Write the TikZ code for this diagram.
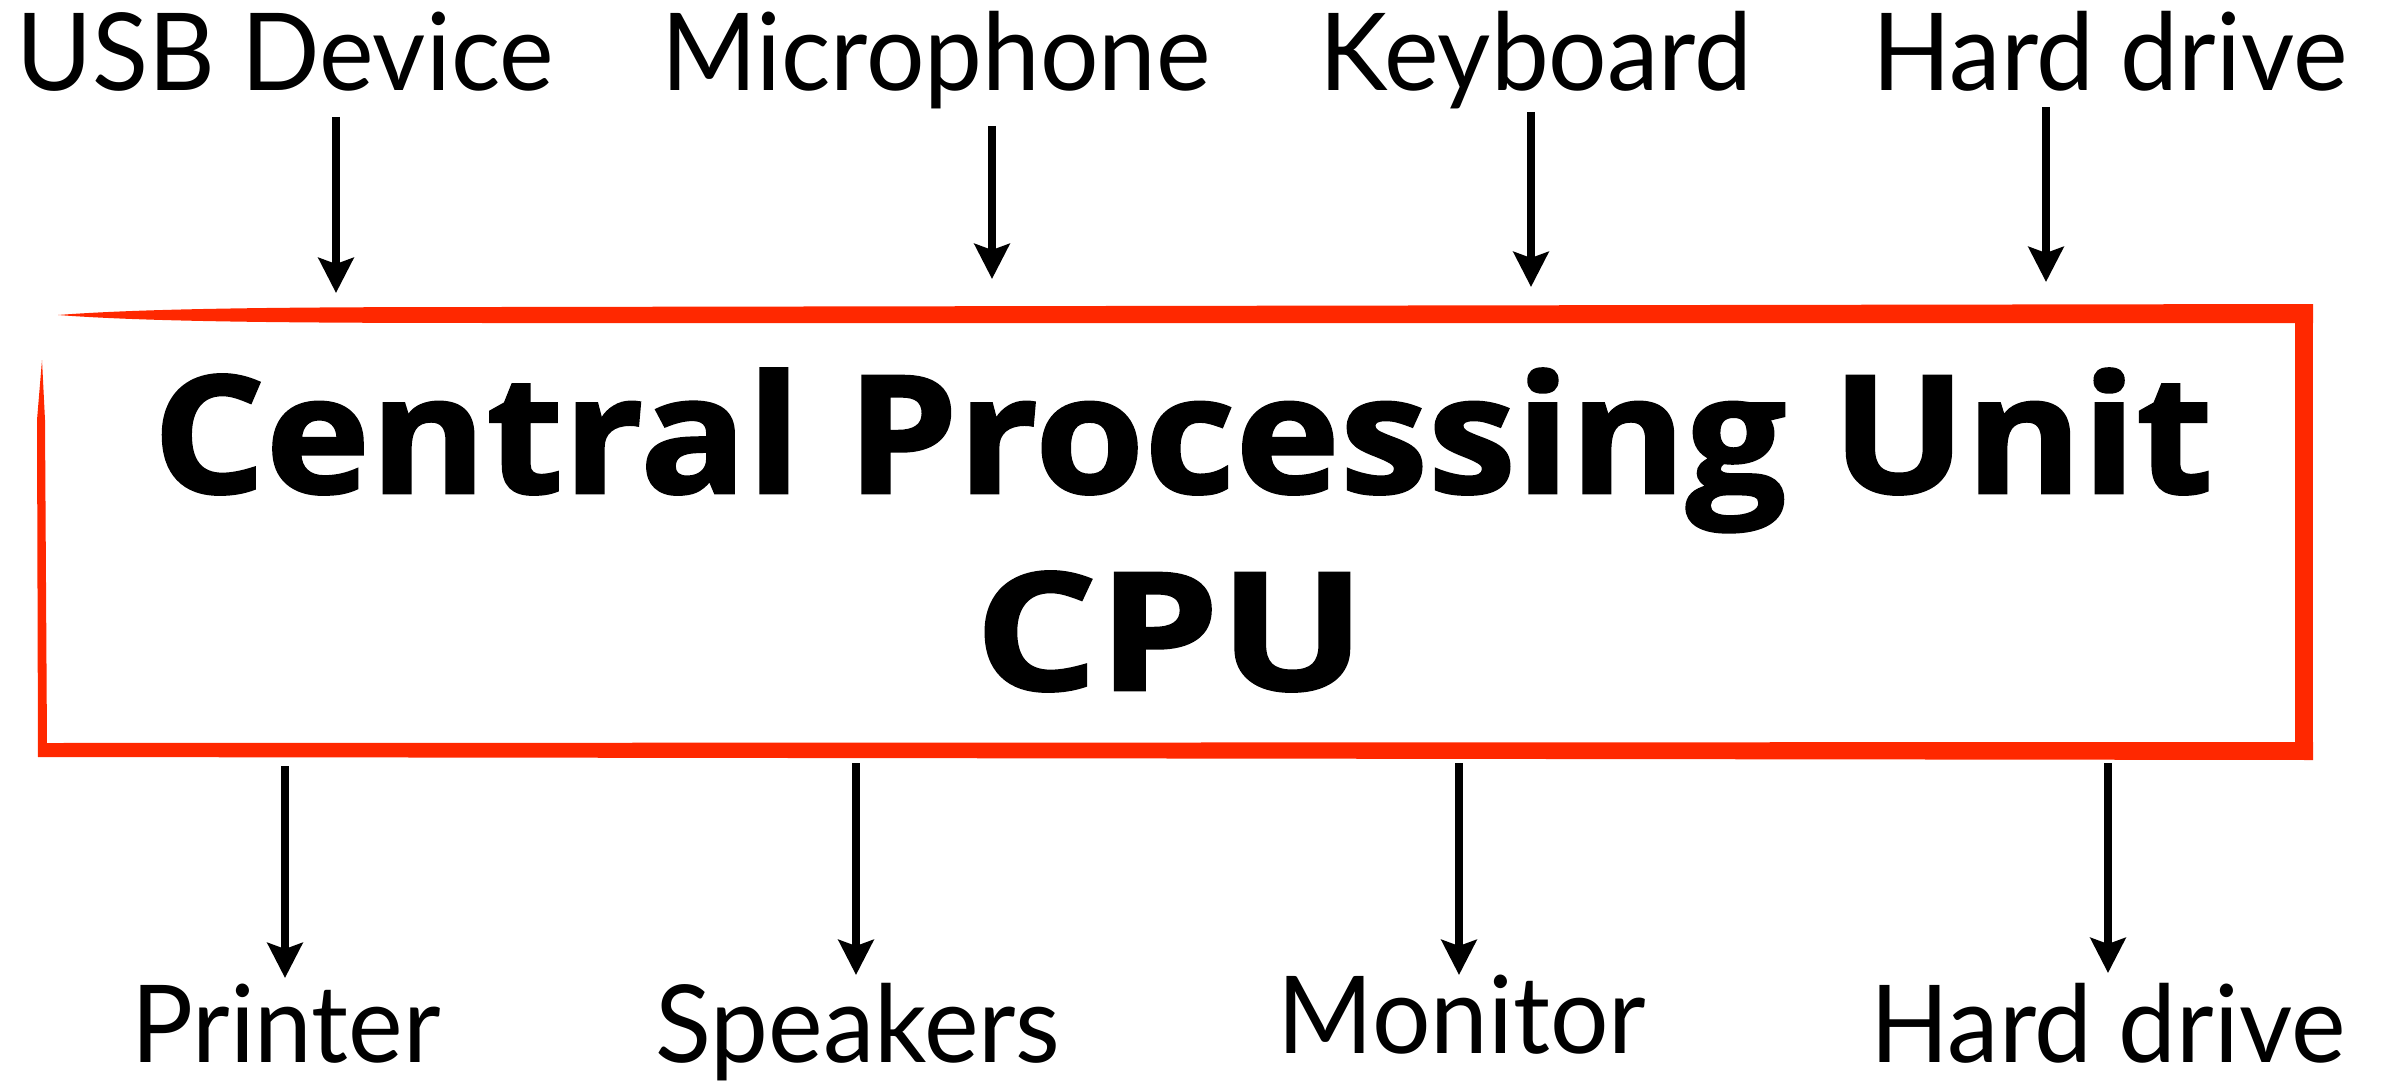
\documentclass[tikz,border=0pt]{standalone}
\usepackage{fontspec}
\setmainfont{Lato}[FakeStretch=0.96]
\newfontfamily\heavyfont{Open Sans}[FakeStretch=1.08, BoldFeatures={FakeBold=1.6}]
\newfontfamily\heavycaps{Open Sans}[FakeStretch=1.18, BoldFeatures={FakeBold=1.6}]
\usetikzlibrary{arrows.meta}
\definecolor{cpured}{RGB}{255,40,0}
\begin{document}
\begin{tikzpicture}[x=0.01cm,y=-0.01cm,
  lab/.style={font=\fontsize{30.6}{36}\selectfont, inner sep=0pt, anchor=base},
  big/.style={font=\heavyfont\bfseries\fontsize{46.6}{56}\selectfont, inner sep=0pt, anchor=base},
  bigcaps/.style={font=\heavycaps\bfseries\fontsize{46.6}{56}\selectfont, inner sep=0pt, anchor=base},
  arr/.style={line width=0.075cm, -{Stealth[length=0.35cm,width=0.35cm,inset=0.06cm]}},
  redfill/.style={fill=cpured, draw=none}]
\useasboundingbox (0,0) rectangle (2386,1082);

% CPU box (invisible node holding the frame's extent)
\node (cpu) [inner sep=0pt, minimum width=22.75cm, minimum height=4.56cm] at (1175.5,532) {};
\node[big] (title) at (1183,493) {Central Processing Unit};
\node[bigcaps] (acr) at (1170,690) {CPU};

% sketchy red frame
\fill[redfill] (58,315) .. controls (150,308) and (300,307) .. (500,307) -- (2313,304) -- (2313,323) -- (500,323) .. controls (300,323) and (150,322) .. (58,315) -- cycle;
\fill[redfill] (2295,304) rectangle (2313,760);
\fill[redfill] (38,743) -- (2313,742) -- (2313,760) -- (38,757) -- cycle;
\fill[redfill] (38,757) -- (37,420) -- (42,360) -- (45,420) -- (47,745) -- cycle;

% top labels
\node[lab] (usb) at (285,91) {USB Device};
\node[lab] (mic) at (936,91) {Microphone};
\node[lab] (kbd) at (1536,91) {Keyboard};
\node[lab] (hdin) at (2110,91) {Hard drive};

% bottom labels
\node[lab] (prn) at (286,1062) {Printer};
\node[lab] (spk) at (858,1062) {Speakers};
\node[lab] (mon) at (1462,1053) {Monitor};
\node[lab] (hdout) at (2108,1062) {Hard drive};

% arrow end points
\coordinate (usbA) at (336,117);  \coordinate (usbB) at (336,293);
\coordinate (micA) at (992,126);  \coordinate (micB) at (992,279);
\coordinate (kbdA) at (1531,112); \coordinate (kbdB) at (1531,287);
\coordinate (hdiA) at (2046,107); \coordinate (hdiB) at (2046,282);
\coordinate (prnA) at (285,766);  \coordinate (prnB) at (285,978);
\coordinate (spkA) at (856,763);  \coordinate (spkB) at (856,975);
\coordinate (monA) at (1459,763); \coordinate (monB) at (1459,975);
\coordinate (hdoA) at (2108,763); \coordinate (hdoB) at (2108,973);

\draw[arr] (usbA) -- (usbB);
\draw[arr] (micA) -- (micB);
\draw[arr] (kbdA) -- (kbdB);
\draw[arr] (hdiA) -- (hdiB);
\draw[arr] (prnA) -- (prnB);
\draw[arr] (spkA) -- (spkB);
\draw[arr] (monA) -- (monB);
\draw[arr] (hdoA) -- (hdoB);
\end{tikzpicture}
\end{document}
